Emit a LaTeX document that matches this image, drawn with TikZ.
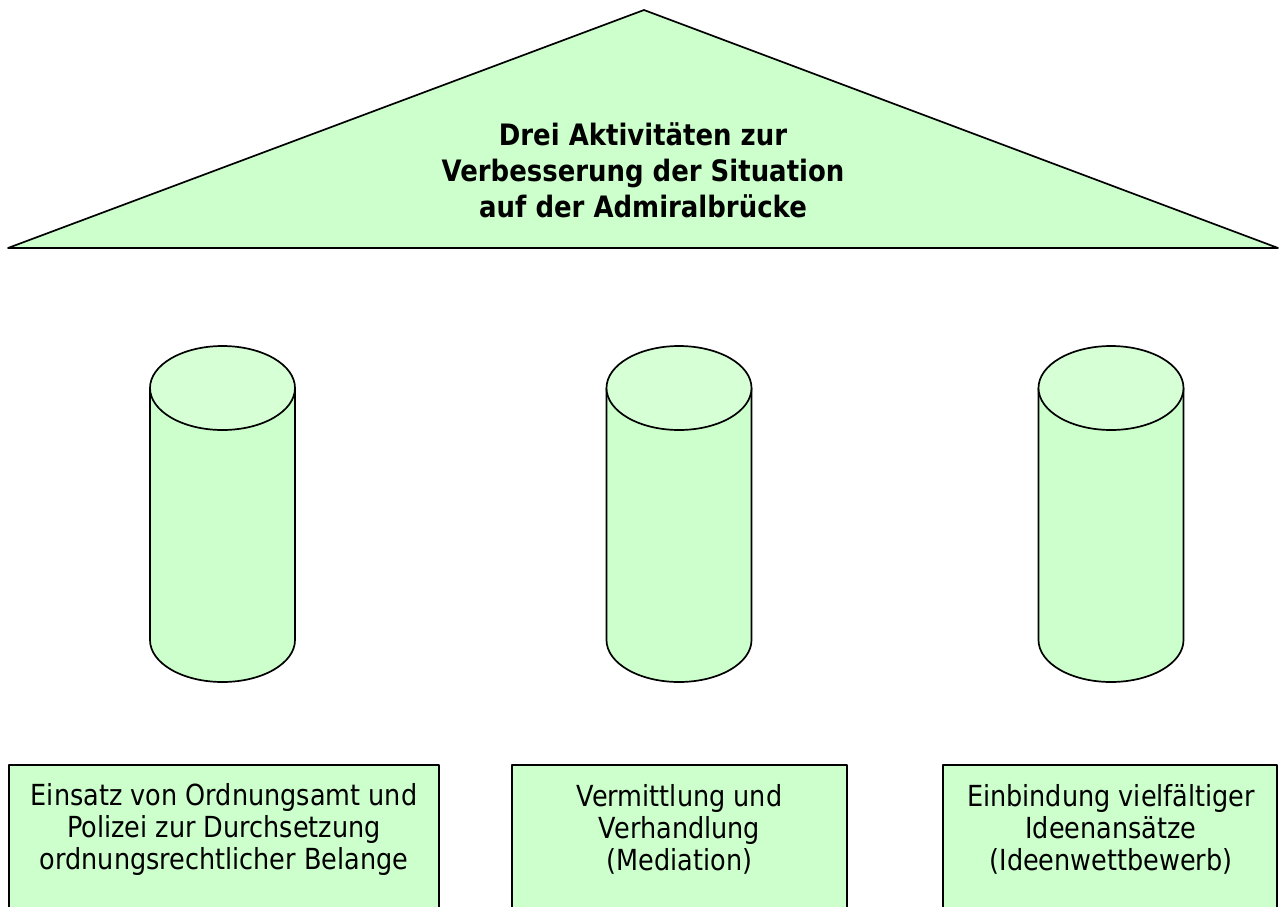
\documentclass[tikz,border=0pt]{standalone}
\usepackage{fontspec}
\setmainfont{DejaVu Sans}[FakeStretch=0.88]
\definecolor{paleg}{HTML}{CCFFCC}
\definecolor{paletop}{HTML}{D6FFD6}
\begin{document}
\begin{tikzpicture}[x=1pt,y=-1pt,
  outl/.style={draw=black,line width=1.7pt,line join=round},
  boxtext/.style={align=center,font=\fontsize{29}{32}\selectfont,inner sep=0pt},
  titletext/.style={align=center,font=\fontsize{29.5}{36}\selectfont\bfseries,inner sep=0pt}]
\useasboundingbox (0,0) rectangle (1280,906);
\clip (0,0) rectangle (1280,906);
% roof
\coordinate (apex) at (644,10);
\coordinate (eL) at (8,248);
\coordinate (eR) at (1278,248);
\fill[paleg] (apex) -- (eL) -- (eR) -- cycle;
\draw[outl] (apex) -- (eL) -- (eR) -- cycle;
\node[titletext] (title) at (643,170) {Drei Aktivitäten zur\\Verbesserung der Situation\\auf der Admiralbrücke};
% cylinders
\foreach \cx/\nm in {222.5/c1,679/c2,1111/c3}{
  \coordinate (\nm) at (\cx,388);
  \fill[paleg] (\cx-72.5,388) -- (\cx-72.5,640) arc[start angle=180,end angle=360,x radius=72.5,y radius=-42] -- (\cx+72.5,388) -- cycle;
  \draw[outl] (\cx-72.5,388) -- (\cx-72.5,640) arc[start angle=180,end angle=360,x radius=72.5,y radius=-42] -- (\cx+72.5,388);
  \draw[outl,fill=paletop] (\cx,388) ellipse[x radius=72.5,y radius=42];
}
% boxes
\draw[outl,fill=paleg] (9,765) rectangle (439,930);
\draw[outl,fill=paleg] (512,765) rectangle (847,930);
\draw[outl,fill=paleg] (943,765) rectangle (1277,930);
\node[boxtext] (t1) at (224,829) {Einsatz von Ordnungsamt und\\Polizei zur Durchsetzung\\ordnungsrechtlicher Belange};
\node[boxtext] (t2) at (679.5,829) {Vermittlung und\\Verhandlung\\(Mediation)};
\node[boxtext] (t3) at (1111,829) {Einbindung vielfältiger\\Ideenansätze\\(Ideenwettbewerb)};
\end{tikzpicture}
\end{document}
